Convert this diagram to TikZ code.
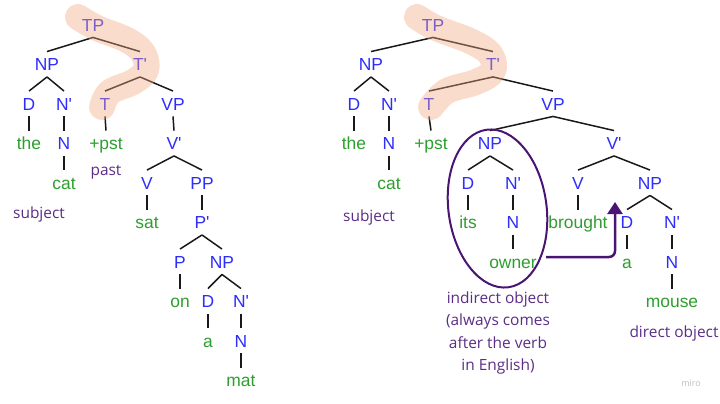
\documentclass[tikz,border=0pt]{standalone}
\usepackage{fontspec}
\usetikzlibrary{calc,arrows.meta,shapes.geometric}
\newfontfamily\trf{Liberation Sans}
\newfontfamily\anf{Open Sans}
\definecolor{labblue}{HTML}{2E2EFA}
\definecolor{wrdgreen}{HTML}{2E9E2E}
\definecolor{annpurple}{HTML}{5B2D86}
\definecolor{ellpurple}{HTML}{4A1473}
\definecolor{hlpeach}{HTML}{F2A880}
\newcommand\brr[2]{\draw[br] ($(#1.south)+(0,6)$) -- ($(#2.north)+(0,-6.5)$);}
\begin{document}
\begin{tikzpicture}[x=1bp,y=-1bp,
 lab/.style={font=\trf\fontsize{17.5}{20}\selectfont, text=labblue, inner sep=0pt, text height=12.5bp, text depth=0pt},
 wrd/.style={lab, text=wrdgreen},
 ann/.style={font=\anf\fontsize{15.5}{22.5}\selectfont, text=annpurple, inner sep=0pt, align=center},
 br/.style={draw=black!90, line width=1.5bp},
 hl/.style={draw=hlpeach, opacity=0.4, line width=26bp, line cap=round, line join=round},
 ell/.style={draw=ellpurple, line width=2bp, ellipse, inner sep=0pt},
 arr/.style={draw=ellpurple, line width=2.5bp, rounded corners=6bp, -{Triangle[width=15bp,length=12bp]}},
]
\useasboundingbox (0,0) rectangle (720,403);
% ---------- left tree ----------
\node[lab] (lTP) at (93,25) {TP};
\node[lab] (lNP) at (47,64.5) {NP};
\node[lab] (lTb) at (140,64.5) {T'};
\node[lab] (lD) at (29,104) {D};
\node[lab] (lNb) at (64,104) {N'};
\node[lab] (lT) at (105,104) {T};
\node[lab] (lVP) at (173,104) {VP};
\node[wrd] (lthe) at (29,143.5) {the};
\node[lab] (lN) at (64,143.5) {N};
\node[wrd] (lpst) at (106,143.5) {+pst};
\node[lab] (lVb) at (174,143.5) {V'};
\node[wrd] (lcat) at (64,183) {cat};
\node[lab] (lV) at (147,183) {V};
\node[lab] (lPP) at (202,183) {PP};
\node[wrd] (lsat) at (147,222.5) {sat};
\node[lab] (lPb) at (202,222.5) {P'};
\node[lab] (lP) at (180,262) {P};
\node[lab] (lNP2) at (222,262) {NP};
\node[wrd] (lon) at (180,301.5) {on};
\node[lab] (lD2) at (208,301.5) {D};
\node[lab] (lNb2) at (241,301.5) {N'};
\node[wrd] (la) at (208,341) {a};
\node[lab] (lN2) at (241,341) {N};
\node[wrd] (lmat) at (241,380.5) {mat};
\node[ann] (lpast) at (106,172) {past};
\node[ann] (lsubj) at (39,214) {subject};
\brr{lTP}{lNP} \brr{lTP}{lTb}
\brr{lNP}{lD} \brr{lNP}{lNb}
\brr{lTb}{lT} \brr{lTb}{lVP}
\brr{lD}{lthe} \brr{lNb}{lN} \brr{lN}{lcat}
\brr{lT}{lpst} \brr{lVP}{lVb}
\brr{lVb}{lV} \brr{lVb}{lPP}
\brr{lV}{lsat} \brr{lPP}{lPb}
\brr{lPb}{lP} \brr{lPb}{lNP2}
\brr{lP}{lon} \brr{lNP2}{lD2} \brr{lNP2}{lNb2}
\brr{lD2}{la} \brr{lNb2}{lN2} \brr{lN2}{lmat}
% ---------- right tree ----------
\node[lab] (rTP) at (433,25) {TP};
\node[lab] (rNP) at (371,64.5) {NP};
\node[lab] (rTb) at (493,64.5) {T'};
\node[lab] (rD) at (354,104) {D};
\node[lab] (rNb) at (389,104) {N'};
\node[lab] (rT) at (429,104) {T};
\node[lab] (rVP) at (553,104) {VP};
\node[wrd] (rthe) at (354,143.5) {the};
\node[lab] (rN) at (389,143.5) {N};
\node[wrd] (rpst) at (431,143.5) {+pst};
\node[lab] (rNP2) at (490,143.5) {NP};
\node[lab] (rVb) at (614,143.5) {V'};
\node[wrd] (rcat) at (389,183) {cat};
\node[lab] (rD2) at (468,183) {D};
\node[lab] (rNb2) at (513,183) {N'};
\node[lab] (rV) at (578,183) {V};
\node[lab] (rNP3) at (650,183) {NP};
\node[wrd] (rits) at (468,222.5) {its};
\node[lab] (rN2) at (513,222.5) {N};
\node[wrd] (rbrought) at (578,222.5) {brought};
\node[lab] (rD3) at (627,222.5) {D};
\node[lab] (rNb3) at (672,222.5) {N'};
\node[wrd] (rowner) at (513,262) {owner};
\node[wrd] (ra) at (627,262) {a};
\node[lab] (rN3) at (672,262) {N};
\node[wrd] (rmouse) at (672,301.5) {mouse};
\node[ann] (rsubj) at (369,217) {subject};
\node[ann] (rind) at (498,333) {indirect object\\(always comes\\after the verb\\in English)};
\node[ann] (rdir) at (674,333) {direct object};
\node[font=\anf\fontsize{9}{10}\selectfont, text=black!25, inner sep=0pt] (miro) at (691,383) {miro};
\brr{rTP}{rNP} \brr{rTP}{rTb}
\brr{rNP}{rD} \brr{rNP}{rNb}
\brr{rTb}{rT} \brr{rTb}{rVP}
\brr{rD}{rthe} \brr{rNb}{rN} \brr{rN}{rcat}
\brr{rT}{rpst}
\brr{rVP}{rNP2} \brr{rVP}{rVb}
\brr{rNP2}{rD2} \brr{rNP2}{rNb2}
\brr{rD2}{rits} \brr{rNb2}{rN2} \brr{rN2}{rowner}
\brr{rVb}{rV} \brr{rVb}{rNP3}
\brr{rV}{rbrought}
\brr{rNP3}{rD3} \brr{rNP3}{rNb3}
\brr{rD3}{ra} \brr{rNb3}{rN3} \brr{rN3}{rmouse}
% ---------- indirect object ellipse and arrow ----------
\node[ell, rotate=8, minimum width=98bp, minimum height=159bp] (ellip) at (497.5,208.5) {};
\coordinate (arrs) at (546,257);
\coordinate (arrt) at (615,202);
\draw[arr] (arrs) -| (arrt);
% ---------- highlights ----------
\draw[hl] plot[smooth, tension=0.6] coordinates {(78,17) (97,28) (127,40) (143,53) (146,70) (133,82) (110,92) (102,107)};
\draw[hl] plot[smooth, tension=0.6] coordinates {(417,17) (436,28) (470,41) (490,54) (493,71) (476,82) (447,91) (431,107)};
\end{tikzpicture}
\end{document}
